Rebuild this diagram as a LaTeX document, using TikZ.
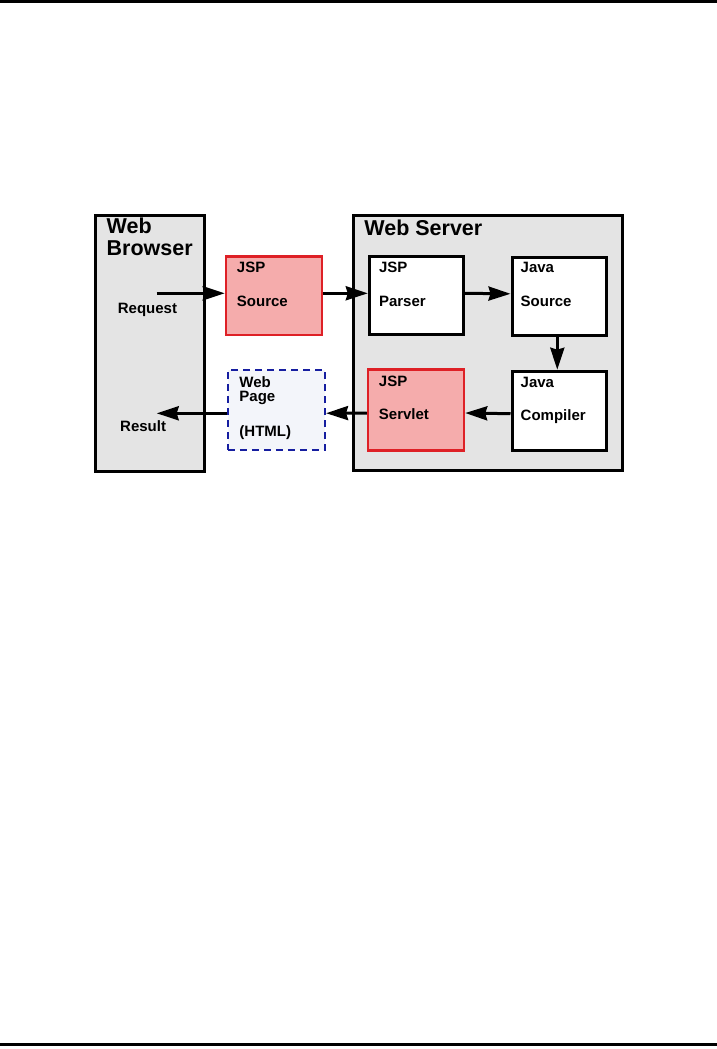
\documentclass[tikz,border=0pt]{standalone}
\usepackage{fontspec}
\setmainfont{Liberation Sans}
\usetikzlibrary{arrows.meta,calc,positioning}

\definecolor{panelgray}{RGB}{228,228,228}
\definecolor{jspred}{RGB}{222,32,38}
\definecolor{jsppink}{RGB}{245,172,172}
\definecolor{pageblue}{RGB}{22,30,160}
\definecolor{pagefill}{RGB}{243,245,250}

\begin{document}
\begin{tikzpicture}[x=1pt, y=-1pt,
  panel/.style={draw, line width=3pt, fill=panelgray, inner sep=0pt},
  box/.style={draw, line width=3pt, fill=white, inner sep=0pt, minimum width=94pt, minimum height=78pt},
  jspbox/.style={box, draw=jspred, fill=jsppink, line width=2.5pt, minimum width=96pt},
  pagebox/.style={box, draw=pageblue, fill=pagefill, line width=2.5pt, dash pattern=on 7pt off 5pt, minimum width=97pt, minimum height=80pt},
  lbl/.style={font=\fontsize{15}{14.7}\selectfont\bfseries, inner sep=0pt, align=left, anchor=base west},
  ttl/.style={font=\fontsize{21.5}{22}\selectfont\bfseries, inner sep=0pt, align=left, anchor=base west},
  arr/.style={-{Stealth[length=22pt,width=14pt,inset=2pt]}, line width=3pt}]
\useasboundingbox (0,0) rectangle (717,1049);

% page rules
\draw[line width=3pt] (0,1.5) -- (717,1.5);
\draw[line width=2.5pt] (0,1044.5) -- (717,1044.5);

% browser and server panels
\node[panel, minimum width=109pt, minimum height=256pt] (browser) at (150,343.5) {};
\node[panel, minimum width=269pt, minimum height=255pt] (server) at (487.5,343) {};
\node[ttl] (browserT) at ($(browser.north west)+(12.5,41.8)$) {Web\\Browser};
\node[ttl] (serverT) at ($(server.north west)+(12.7,21.5)$) {Web Server};

% boxes
\node[jspbox, minimum height=78.5pt] (src) at (274,295.5) {};
\node[box] (pars) at (416.3,295.5) {};
\node[box] (jsrc) at (559,296) {};
\node[box, minimum height=79pt] (comp) at (559,410.7) {};
\node[jspbox, minimum height=81pt] (serv) at (416,410) {};
\node[pagebox] (page) at (276.3,410.2) {};

% box texts (anchored at the last line)
\node[lbl] (srcT) at ($(src.north west)+(12,51.5)$) {JSP\\[19pt]Source};
\node[lbl] (parsT) at ($(pars.north west)+(11,51)$) {JSP\\[19pt]Parser};
\node[lbl] (jsrcT) at ($(jsrc.north west)+(10,51)$) {Java\\[19pt]Source};
\node[lbl] (compT) at ($(comp.north west)+(10,51.2)$) {Java\\[19pt]Compiler};
\node[lbl] (servT) at ($(serv.north west)+(12,51.5)$) {JSP\\[19pt]Servlet};
\node[lbl] (pageT) at ($(page.north west)+(12.7,68)$) {Web\\Page\\[20.3pt](HTML)};

% browser texts
\node[lbl] (reqT) at (117.7,313.5) {Request};
\node[lbl] (resT) at (120,431.5) {Result};
\coordinate (req) at (156.7,293.3);
\coordinate (res) at (156.7,413.3);

% flow
\draw[arr] (req) -- (req -| src.west);
\draw[arr] ([yshift=2.2pt]src.east) -- ([yshift=2.2pt]pars.west);
\draw[arr] ([yshift=2.2pt]pars.east) -- ([yshift=2.2pt]jsrc.west);
\draw[arr] ([xshift=-1.7pt]jsrc.south) -- ([xshift=-1.7pt]comp.north);
\draw[arr] ([yshift=-3pt]comp.west) -- ([yshift=-3pt]serv.west -| serv.east);
\draw[arr] ([yshift=-3pt]serv.west) -- ([yshift=-3pt]page.east);
\draw[arr] (page.west |- res) -- (res);
\end{tikzpicture}
\end{document}
